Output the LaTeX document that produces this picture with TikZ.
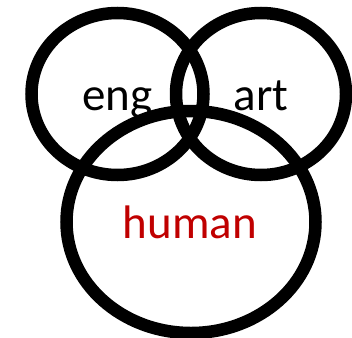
\documentclass[tikz,border=0pt]{standalone}
\usepackage{fontspec}
\setmainfont{Carlito}
\usetikzlibrary{shapes.geometric}
\definecolor{hred}{HTML}{C00000}
\begin{document}
\begin{tikzpicture}[x=1pt,y=-1pt,
  ring/.style={draw=black, line width=12.5pt, ellipse, inner sep=0pt, fill=none},
  lbl/.style={anchor=base, inner sep=0pt, font=\fontsize{47}{51}\selectfont}]
\useasboundingbox (0,0) rectangle (352,337);
\node[lbl] (teng) at (117.5,110) {eng};
\node[lbl] (tart) at (261,110) {art};
\node[lbl, text=hred] (thuman) at (190,238) {human};
\node[ring, minimum width=172pt, minimum height=162pt] (eng) at (117.5,94) {};
\node[ring, minimum width=170pt, minimum height=162pt] (art) at (261,94) {};
\node[ring, minimum width=249pt, minimum height=222pt] (human) at (191,222) {};
\end{tikzpicture}
\end{document}
